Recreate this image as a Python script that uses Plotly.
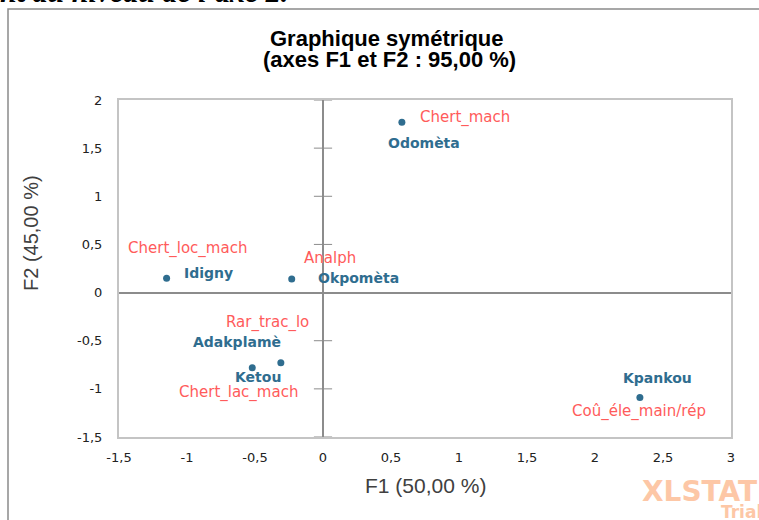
import plotly.graph_objects as go

# rows (blue) and columns (red) of the correspondence analysis, F1/F2 coords
ROW_LABELS = ["Odomèta", "Idigny", "Okpomèta", "Adakplamè", "Ketou", "Kpankou"]
ROW_F1 = [0.58, -1.15, -0.23, -0.31, -0.52, 2.33]
ROW_F2 = [1.77, 0.15, 0.14, -0.73, -0.78, -1.09]

COL_LABELS = ["Chert_mach", "Chert_loc_mach", "Analph", "Rar_trac_lo",
              "Chert_lac_mach", "Coû_éle_main/rép"]
COL_F1 = [0.58, -1.15, -0.23, -0.31, -0.52, 2.33]
COL_F2 = [1.77, 0.15, 0.14, -0.73, -0.78, -1.09]

X_TICKS = [-1.5, -1, -0.5, 0, 0.5, 1, 1.5, 2, 2.5, 3]
Y_TICKS = [-1.5, -1, -0.5, 0, 0.5, 1, 1.5, 2]

# label offsets in px (dx, dy) — mimic XLSTAT label placement
ROW_SHIFT = [(22, -21), (42, 5), (67, 1), (-44, 21), (6, -9), (18, 20)]
COL_SHIFT = [(63, 5), (21, 30), (38, 21), (-13, 40), (-14, -25), (-1, -14)]

BLUE = "#2f6d8f"
RED = "#ff5b5b"
W, H = 759, 520
L, R, T, B = 119, 28, 100, 83


def fmt(v):
    return f"{v:g}".replace(".", ",")


def px_x(p):
    return (p - L) / (W - L - R)


def px_y(p):
    return (H - B - p) / (H - T - B)


def note(text, x, y, size, color="black", **kw):
    font = dict(family=kw.pop("family", "Liberation Sans"), size=size, color=color)
    for k in ("weight", "style"):
        if k in kw:
            font[k] = kw.pop(k)
    kw.setdefault("xanchor", "center")
    kw.setdefault("yanchor", "middle")
    return dict(x=px_x(x), y=px_y(y), xref="paper", yref="paper", text=text,
                showarrow=False, font=font, **kw)


fig = go.Figure()

# tick marks sitting on the vertical zero axis (Excel style)
fig.add_trace(go.Scatter(
    x=[0] * len(Y_TICKS), y=Y_TICKS, mode="markers",
    marker=dict(symbol="line-ew", size=13, line=dict(width=1, color="#8c8c8c")),
    hoverinfo="skip", showlegend=False,
))

fig.add_trace(go.Scatter(
    x=ROW_F1, y=ROW_F2, mode="markers",
    marker=dict(size=7, color=BLUE),
    text=ROW_LABELS, hovertemplate="%{text}<br>F1: %{x}<br>F2: %{y}<extra></extra>",
    showlegend=False,
))

annotations = []
for lab, x, y, (dx, dy) in zip(COL_LABELS, COL_F1, COL_F2, COL_SHIFT):
    annotations.append(dict(
        x=x, y=y, xref="x", yref="y", text=lab, showarrow=False,
        xshift=dx, yshift=dy, font=dict(family="DejaVu Sans", size=15, color=RED),
    ))
for lab, x, y, (dx, dy) in zip(ROW_LABELS, ROW_F1, ROW_F2, ROW_SHIFT):
    annotations.append(dict(
        x=x, y=y, xref="x", yref="y", text=lab, showarrow=False,
        xshift=dx, yshift=dy,
        font=dict(family="DejaVu Sans", size=14, color=BLUE, weight="bold"),
    ))

# title (two lines, tight spacing as in Excel)
annotations.append(note("Graphique symétrique", 387, 38, 22, weight="bold"))
annotations.append(note("(axes F1 et F2 : 95,00 %)", 389, 60, 22, weight="bold"))

# axis titles
annotations.append(note("F1 (50,00 %)", 425, 485, 21, "#404040"))
annotations.append(note("F2 (45,00 %)", 31, 233, 20, "#404040", textangle=-90))

# cut-off line of the surrounding document
annotations.append(note("nt au niveau de l'axe 2.", -2, -9, 30, family="Liberation Serif",
                        weight="bold", style="italic", xanchor="left"))

# XLSTAT watermark
annotations.append(note("XLSTAT", 640, 491, 28, "#fdc7a6", family="DejaVu Sans",
                        weight="bold", xanchor="left"))
annotations.append(note("Trial", 719, 512, 17, "#fdc7a6", family="DejaVu Sans",
                        weight="bold", xanchor="left"))

fig.update_layout(
    width=W, height=H,
    margin=dict(l=L, r=R, t=T, b=B),
    plot_bgcolor="white", paper_bgcolor="white",
    annotations=annotations,
    shapes=[dict(
        type="rect", xref="paper", yref="paper",
        x0=px_x(8), y0=px_y(540), x1=px_x(790), y1=px_y(9),
        line=dict(color="#8a8a8a", width=1.5), layer="below",
    )],
    showlegend=False,
)

fig.update_xaxes(
    range=[-1.5, 3], tickvals=X_TICKS, ticktext=[fmt(v) for v in X_TICKS],
    showgrid=False, zeroline=True, zerolinecolor="#8c8c8c", zerolinewidth=1.5,
    showline=True, mirror=True, linecolor="#c4c4c4", linewidth=2,
    ticks="", ticklabelstandoff=7,
    tickfont=dict(family="DejaVu Sans", size=13, color="#222"),
)
fig.update_yaxes(
    range=[-1.5, 2], tickvals=Y_TICKS, ticktext=[fmt(v) for v in Y_TICKS],
    showgrid=False, zeroline=True, zerolinecolor="#8c8c8c", zerolinewidth=1.5,
    showline=True, mirror=True, linecolor="#c4c4c4", linewidth=2,
    ticks="", ticklabelstandoff=12,
    tickfont=dict(family="DejaVu Sans", size=13, color="#222"),
)

fig.write_html("out.html", config={"displayModeBar": False},
               post_script="document.body.style.margin = '0';")
